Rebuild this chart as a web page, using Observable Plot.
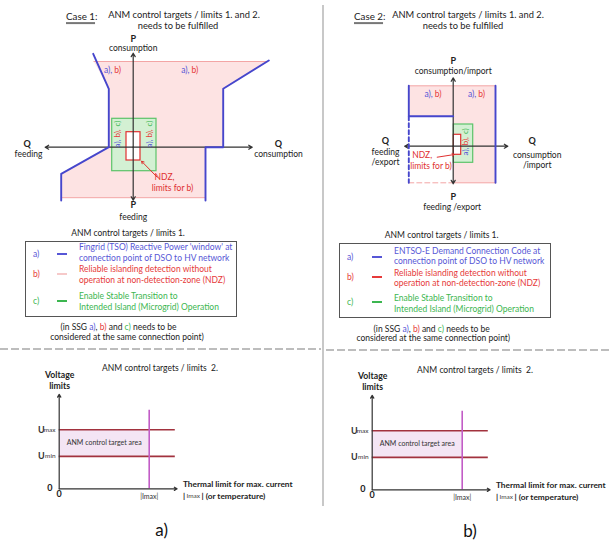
<!DOCTYPE html>
<html><head><meta charset="utf-8">
<script src="https://cdn.jsdelivr.net/npm/d3@7"></script>
<script src="https://cdn.jsdelivr.net/npm/@observablehq/plot@0.6"></script>
<style>
body{margin:0;background:#fff;}
#root{position:relative;width:612px;height:540px;overflow:hidden;font-family:Lato,"Open Sans",sans-serif;color:#222;background:#fff;}
.t{position:absolute;white-space:nowrap;line-height:1;}
</style></head><body><div id="root"></div>
<script>
// ===================== DATA =====================
// Case 1 – PQ plane (Q horizontal, P vertical), arbitrary units
const c1Window    = [[-3.93,8.57],[13.4,8.57],[9.0,5.84],[9.0,0],[7.23,0],[7.23,-5.05],[-7.2,-5.05],[-7.2,-2.66],[-2.44,0],[-2.44,5.84]];
const c1BlueLeft  = [[-4.0,9.34],[-2.44,5.84],[-2.44,0],[-7.2,-2.66],[-7.2,-5.33]];
const c1BlueRight = [[13.56,8.67],[9.0,5.84],[9.0,0],[7.23,0],[7.23,-5.33]];
const c1TopEdge   = [[-3.93,8.57],[13.4,8.57]];
const c1BotEdge   = [[-7.2,-5.05],[7.23,-5.05]];
const c1Green     = [{q1:-2.1,q2:2.33,p1:-2.4,p2:2.84}];
const c1NDZ       = [{q1:-0.67,q2:0.73,p1:-1.33,p2:1.5}];
const c1Axes      = [{x1:0,y1:0,x2:-8.8,y2:0},{x1:0,y1:0,x2:11.9,y2:0},{x1:0,y1:0,x2:0,y2:9.4},{x1:0,y1:0,x2:0,y2:-5.3}];
const c1NDZArrow  = [{x1:2.4,y1:-3.0,x2:0.83,y2:-1.4}];
const c1AxisBold  = [{q:0,p:10.84,text:"P"},{q:-10.6,p:0.34,text:"Q"},{q:14.53,p:0.34,text:"Q"},{q:0,p:-5.75,text:"P"}];
const c1AxisText  = [{q:0,p:9.9,text:"consumption"},{q:-10.47,p:-0.73,text:"feeding"},{q:14.53,p:-0.73,text:"consumption"},{q:0,p:-7.03,text:"feeding"}];
const c1ABLabels  = [{q:-2.0,p:7.67},{q:5.73,p:7.67}];
const c1RotLabels = [
  {q:-1.54,p:0.37,text:"a),",c:"a"},{q:-1.54,p:1.37,text:"b),",c:"b"},{q:-1.54,p:2.37,text:"c)",c:"c"},
  {q:1.66,p:0.37,text:"a),",c:"a"},{q:1.66,p:1.37,text:"b),",c:"b"},{q:1.66,p:2.37,text:"c)",c:"c"}];
const c1NDZText   = [{q:3.13,p:-3.03,text:"NDZ,"},{q:3.93,p:-4.1,text:"limits for b)"}];

// Case 2 – PQ plane
const c2Window    = [[-4.44,6.04],[4.23,6.04],[4.23,-3.66],[0,-3.66],[0,3.0],[-4.44,3.0]];
const c2BlueSolid = [[-4.44,6.04],[-4.44,3.0],[0,3.0]];
const c2BlueDash  = [[-4.44,3.0],[-4.44,-3.66]];
const c2BlueRight = [[4.23,6.04],[4.23,-3.66]];
const c2TopEdge   = [[-4.44,6.04],[4.23,6.04]];
const c2BotDash   = [[-4.44,-3.66],[0,-3.66]];
const c2BotSolid  = [[0,-3.66],[4.23,-3.66]];
const c2Green     = [{q1:0.06,q2:2.0,p1:-1.66,p2:2.17}];
const c2NDZ       = [{q1:0.06,q2:0.8,p1:-0.86,p2:1.14}];
const c2Axes      = [{x1:0,y1:0,x2:-4.85,y2:0},{x1:0,y1:0,x2:5.46,y2:0},{x1:0,y1:0,x2:0,y2:6.84},{x1:0,y1:0,x2:0,y2:-3.76}];
const c2NDZArrow  = [{x1:-1.6,y1:-1.1,x2:0.13,y2:-0.83}];
const c2AxisBold  = [{q:0,p:8.47,text:"P"},{q:-6.77,p:0.47,text:"Q"},{q:7.9,p:0.47,text:"Q"},{q:0,p:-5.1,text:"P"}];
const c2AxisText  = [{q:0,p:7.5,text:"consumption/import"},{q:-6.77,p:-0.6,text:"feeding"},{q:-6.77,p:-1.6,text:"/export"},
                     {q:8.4,p:-0.86,text:"consumption"},{q:8.4,p:-1.86,text:"/import"},{q:-0.1,p:-6.1,text:"feeding /export"}];
const c2ABLabels  = [{q:-1.94,p:5.17},{q:2.4,p:5.17}];
const c2RotLabels = [{q:1.23,p:-0.53,text:"a),",c:"a"},{q:1.23,p:0.5,text:"b),",c:"b"},{q:1.23,p:1.5,text:"c)",c:"c"}];
const c2NDZText   = [{q:-3.1,p:-0.93,text:"NDZ,"},{q:-2.22,p:-2.0,text:"limits for b)"}];

// Limits 2 – voltage vs. current (I in units of Imax, U in units of Umax)
const voltLevels  = [{name:"U",sub:"max",u:1.0},{name:"U",sub:"min",u:0.55}];
const iMax        = 1.0;
const iLineEnd    = 1.29;
const iAxisEnd    = 1.31;
const uAxisEnd    = 1.6;
const iMaxTop     = 1.33;

// Legend entries (limits 1.)
const legend1 = [
  {key:"a)",c:"a",lines:["Fingrid (TSO) Reactive Power 'window' at","connection point of DSO to HV network"]},
  {key:"b)",c:"b",lines:["Reliable islanding detection without","operation at non-detection-zone (NDZ)"]},
  {key:"c)",c:"c",lines:["Enable Stable Transition to","Intended Island (Microgrid) Operation"]}];
const legend2 = [
  {key:"a)",c:"a",lines:["ENTSO-E Demand Connection Code at","connection point of DSO to HV network"]},
  {key:"b)",c:"b",lines:["Reliable islanding detection without","operation at non-detection-zone (NDZ)"]},
  {key:"c)",c:"c",lines:["Enable Stable Transition to","Intended Island (Microgrid) Operation"]}];

// ===================== STYLE =====================
const FONT = "Lato, 'Open Sans', sans-serif";
const COL = {a:"#5656d6", b:"#e63a3a", c:"#3cb650"};
const BLUE = "#4646cc", PINK = "#fde3e3", PINKEDGE = "#f3a5a5", GREENF = "#d3f0d3", GREENE = "#5cc46a", REDN = "#e03030", AX = "#333";
const root = document.getElementById("root");
const X = d => d[0], Y = d => d[1];

function place(svg, left, top){
  svg.style.position = "absolute"; svg.style.left = left + "px"; svg.style.top = top + "px";
  svg.style.overflow = "visible"; root.appendChild(svg);
}
function label(html, x, y, o = {}){
  const el = document.createElement("div");
  el.className = "t";
  el.innerHTML = html;
  const a = o.anchor || "middle";
  const tx = a === "start" ? "0" : a === "end" ? "-100%" : "-50%";
  el.style.left = x + "px"; el.style.top = y + "px";
  el.style.transform = `translate(${tx},-50%)`;
  el.style.fontSize = (o.size || 8.5) + "px";
  el.style.color = o.color || "#222";
  if (o.weight) el.style.fontWeight = o.weight;
  root.appendChild(el);
  return el;
}
function box(x1, y1, x2, y2, style){
  const el = document.createElement("div");
  el.style.position = "absolute";
  el.style.left = x1 + "px"; el.style.top = y1 + "px";
  el.style.width = (x2 - x1) + "px"; el.style.height = (y2 - y1) + "px";
  Object.assign(el.style, style);
  root.appendChild(el);
}

function pqMarks(d){
  return [
    Plot.line(d.window, {x:X, y:Y, fill:PINK, stroke:"none"}),
    ...d.pinkEdges.map(e => Plot.line(e.pts, {x:X, y:Y, stroke:PINKEDGE, strokeWidth:1, strokeDasharray:e.dash})),
    Plot.rect(d.green, {x1:"q1", x2:"q2", y1:"p1", y2:"p2", fill:GREENF, stroke:GREENE, strokeWidth:1.2}),
    Plot.rect(d.ndz, {x1:"q1", x2:"q2", y1:"p1", y2:"p2", fill:"white", stroke:REDN, strokeWidth:1.2}),
    Plot.arrow(d.axes, {x1:"x1", y1:"y1", x2:"x2", y2:"y2", stroke:AX, strokeWidth:1.2, headLength:5}),
    ...d.blue.map(b => Plot.line(b.pts, {x:X, y:Y, stroke:BLUE, strokeWidth:1.9, strokeDasharray:b.dash})),
    Plot.arrow(d.ndzArrow, {x1:"x1", y1:"y1", x2:"x2", y2:"y2", stroke:REDN, strokeWidth:1, headLength:4}),
    Plot.text(d.axisBold, {x:"q", y:"p", text:"text", fontSize:9, fontWeight:"bold", fill:"#222"}),
    Plot.text(d.axisText, {x:"q", y:"p", text:"text", fontSize:8.5, fill:"#222"}),
    Plot.text(d.ab, {x:"q", y:"p", text:() => "a),", fontSize:8.5, fill:COL.a, textAnchor:"end", dx:-1}),
    Plot.text(d.ab, {x:"q", y:"p", text:() => "b)", fontSize:8.5, fill:COL.b, textAnchor:"start", dx:1}),
    Plot.text(d.rot, {x:"q", y:"p", text:"text", fontSize:8, rotate:-90, fill:r => COL[r.c]}),
    Plot.text(d.ndzText, {x:"q", y:"p", text:"text", fontSize:8.5, fill:REDN})
  ];
}

// ----- Case 1 PQ diagram -----
place(Plot.plot({
  width:305, height:200, margin:0,
  x:{domain:[-13.27,17.23], axis:null}, y:{domain:[-8.33,11.67], axis:null},
  color:{type:"identity"},
  style:{fontFamily:FONT, background:"transparent", overflow:"visible"},
  marks: pqMarks({
    window:c1Window,
    pinkEdges:[{pts:c1TopEdge},{pts:c1BotEdge}],
    green:c1Green, ndz:c1NDZ, axes:c1Axes,
    blue:[{pts:c1BlueLeft},{pts:c1BlueRight}],
    ndzArrow:c1NDZArrow, axisBold:c1AxisBold, axisText:c1AxisText,
    ab:c1ABLabels, rot:c1RotLabels, ndzText:c1NDZText})
}), 0, 30);

// ----- Case 2 PQ diagram -----
place(Plot.plot({
  width:287, height:200, margin:0,
  x:{domain:[-12.77,15.93], axis:null}, y:{domain:[-8.43,11.57], axis:null},
  color:{type:"identity"},
  style:{fontFamily:FONT, background:"transparent", overflow:"visible"},
  marks: pqMarks({
    window:c2Window,
    pinkEdges:[{pts:c2TopEdge},{pts:c2BotDash, dash:"5,3"},{pts:c2BotSolid}],
    green:c2Green, ndz:c2NDZ, axes:c2Axes,
    blue:[{pts:c2BlueSolid},{pts:c2BlueDash, dash:"4,3"},{pts:c2BlueRight}],
    ndzArrow:c2NDZArrow, axisBold:c2AxisBold, axisText:c2AxisText,
    ab:c2ABLabels, rot:c2RotLabels, ndzText:c2NDZText})
}), 325, 30);

// ----- Voltage / thermal limit charts -----
function voltChart(left, top, ox, oy){
  const W = 306, H = 150, kx = 90, ky = 59;
  place(Plot.plot({
    width:W, height:H, margin:0,
    x:{domain:[-ox/kx, (W-ox)/kx], axis:null}, y:{domain:[-(H-oy)/ky, oy/ky], axis:null},
    style:{fontFamily:FONT, background:"transparent", overflow:"visible"},
    marks:[
      Plot.rect([0], {x1:0, x2:iMax, y1:voltLevels[1].u, y2:voltLevels[0].u, fill:"#f4e5f4"}),
      Plot.ruleY(voltLevels, {y:"u", x1:0, x2:iLineEnd, stroke:"#a2323e", strokeWidth:1.6}),
      Plot.ruleX([iMax], {x:d => d, y1:0, y2:iMaxTop, stroke:"#c25cc6", strokeWidth:1.6}),
      Plot.arrow([{x1:0,y1:0,x2:iAxisEnd,y2:0},{x1:0,y1:0,x2:0,y2:uAxisEnd}], {x1:"x1",y1:"y1",x2:"x2",y2:"y2", stroke:AX, strokeWidth:1.2, headLength:4}),
      Plot.text(voltLevels, {x:-0.04, y:"u", text:"sub", fontSize:6.5, textAnchor:"end", fill:"#333"}),
      Plot.text(voltLevels, {x:-0.04, y:"u", text:"name", fontSize:9, fontWeight:"bold", textAnchor:"end", dx:-11, fill:"#333"}),
      Plot.text(["0"], {x:-0.075, y:0.02, text:d => d, fontSize:9, fontWeight:"bold", textAnchor:"end", fill:"#222"}),
      Plot.text(["0"], {x:0, y:-0.085, text:d => d, fontSize:9, fontWeight:"bold", fill:"#222"}),
      Plot.text(["|Imax|"], {x:iMax, y:-0.14, text:d => d, fontSize:7, fill:"#333"}),
      Plot.text(["Voltage","limits"], {x:0.005, y:(d,i) => i ? 1.74 : 1.93, text:d => d, fontSize:8.7, fontWeight:"bold", fill:"#222"}),
      Plot.text(["ANM control target area"], {x:iMax/2, y:(voltLevels[0].u+voltLevels[1].u)/2, text:d => d, fontSize:7, fill:"#333"}),
      Plot.text(["Thermal limit for max. current"], {x:1.375, y:0.08, text:d => d, fontSize:8.3, fontWeight:"bold", textAnchor:"start", fill:"#222"}),
      Plot.text(["|"], {x:1.375, y:-0.12, text:d => d, fontSize:8.3, fontWeight:"bold", textAnchor:"start", fill:"#222"}),
      Plot.text(["Imax"], {x:1.375, y:-0.12, text:d => d, fontSize:6.5, textAnchor:"start", dx:3.5, fill:"#444"}),
      Plot.text(["| (or temperature)"], {x:1.375, y:-0.12, text:d => d, fontSize:8.3, fontWeight:"bold", textAnchor:"start", dx:18.5, fill:"#222"})
    ]
  }), left, top);
}
voltChart(0, 360, 58.7, 128.3);
voltChart(306, 360, 65.7, 129.3);

// ===================== HTML text, legends, separators =====================
const UL = 'text-decoration:underline;text-decoration-thickness:2px;text-decoration-color:#777;text-underline-offset:2px';
label(`<span style="${UL}">Case 1</span>:`, 66, 17, {anchor:"start", size:9.8});
label("ANM control targets / limits 1. and 2.", 184, 15, {size:9.3});
label("needs to be fulfilled", 178, 25.5, {size:9.3});
label(`<span style="${UL}">Case 2</span>:`, 354, 17, {anchor:"start", size:9.8});
label("ANM control targets / limits 1. and 2.", 468, 15, {size:9.3});
label("needs to be fulfilled", 463, 25.5, {size:9.3});

function legend(entries, o){
  label("ANM control targets / limits 1.", o.titleX, o.titleY, {size:8.5});
  box(o.x1, o.y1, o.x2, o.y2, {border:"1.5px solid #555", boxSizing:"border-box"});
  entries.forEach((e, i) => {
    const r = o.rows[i];
    label(e.key, o.keyX, r.key, {size:8.5, color:COL[e.c], anchor:"start"});
    box(o.dashX1, r.key - 1, o.dashX2, r.key + 1, {background: e.c === "b" ? o.bDash : COL[e.c]});
    e.lines.forEach((t, j) => label(t, o.textX, r.lines[j], {size:8.5, color:COL[e.c], anchor:"start"}));
  });
  const ssg = `(in SSG <span style="color:${COL.a}">a)</span>, <span style="color:${COL.b}">b)</span> and <span style="color:${COL.c}">c)</span> needs to be`;
  label(ssg, o.f1X, o.f1Y, {size:8.5});
  label("considered at the same connection point)", o.f2X, o.f2Y, {size:8.5});
}
legend(legend1, {titleX:128, titleY:232.7, x1:25, y1:241, x2:237, y2:317, keyX:33, dashX1:57, dashX2:67,
  textX:79, bDash:"#f6c9c9",
  rows:[{key:254.3, lines:[246.7,257.7]},{key:274, lines:[269.3,280]},{key:301, lines:[296,307.3]}],
  f1X:118.5, f1Y:327.3, f2X:127, f2Y:337});
legend(legend2, {titleX:441.7, titleY:235, x1:339, y1:242.7, x2:551, y2:318.3, keyX:347, dashX1:372, dashX2:382,
  textX:394, bDash:COL.b,
  rows:[{key:257.3, lines:[250.7,260.7]},{key:276.7, lines:[272.7,282.7]},{key:301.7, lines:[298.3,309.3]}],
  f1X:431.7, f1Y:328.7, f2X:433.3, f2Y:338.3});

label("ANM control targets / limits&nbsp; 2.", 160, 368.3, {size:8.5});
label("ANM control targets / limits&nbsp; 2.", 475, 370, {size:8.5});
label("a)", 161.7, 528.5, {size:17, color:"#111"});
label("b)", 470, 529.5, {size:17, color:"#111"});

box(322, 5, 323.5, 506, {background:"#c8c8c8"});
box(0, 348, 321, 349.5, {background:"repeating-linear-gradient(to right,#bdbdbd 0 8px,transparent 8px 11px)"});
box(326, 349, 612, 350.5, {background:"repeating-linear-gradient(to right,#bdbdbd 0 8px,transparent 8px 11px)"});
</script></body></html>
